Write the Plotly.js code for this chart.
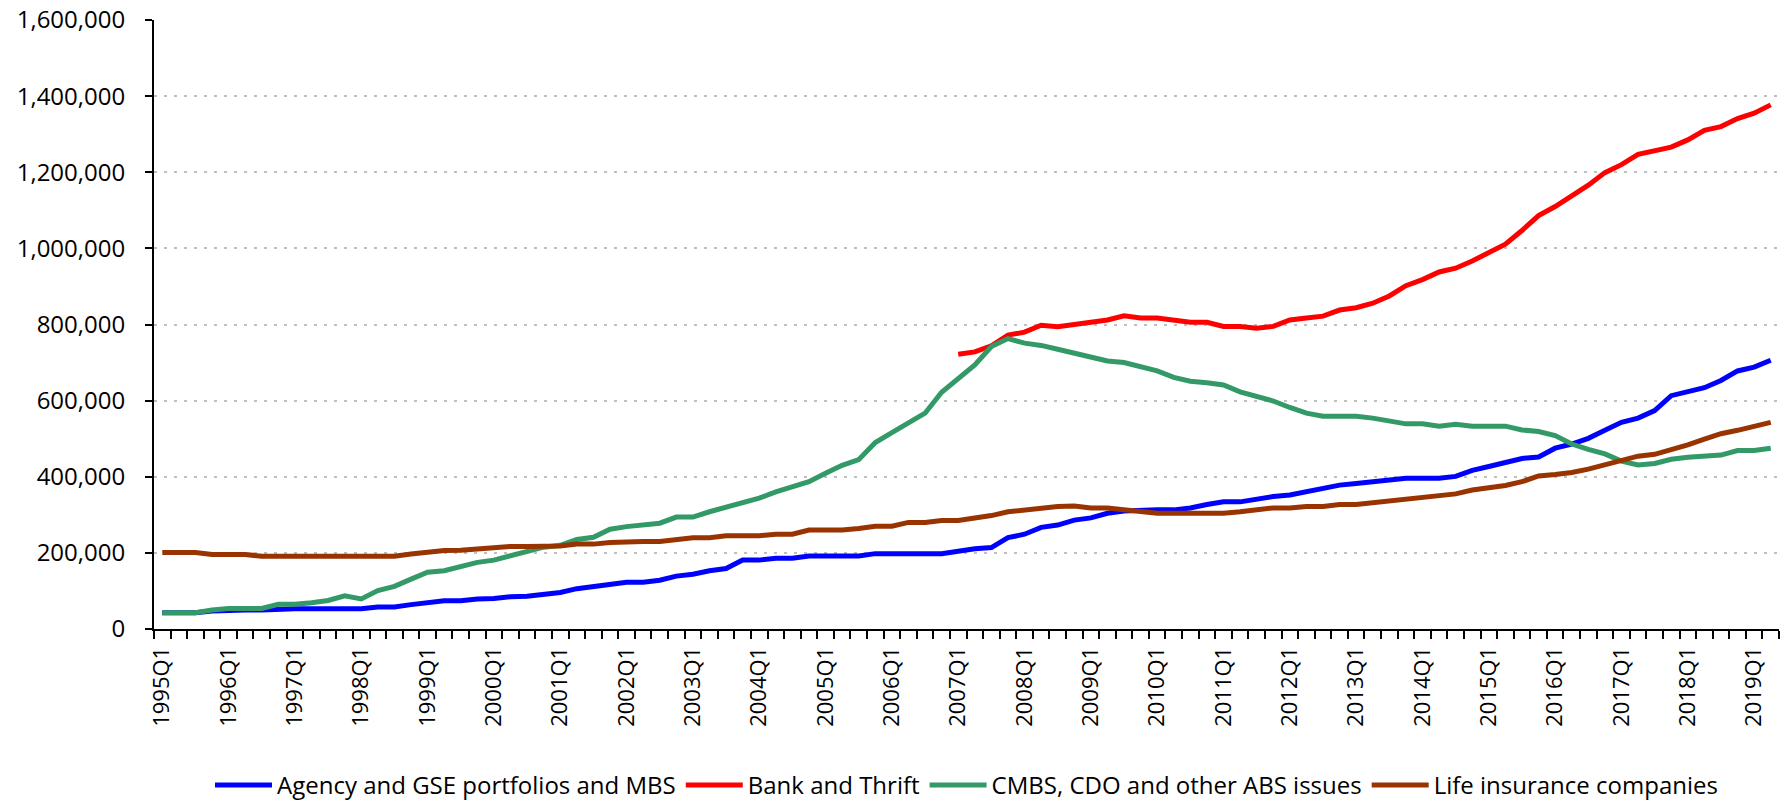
<!DOCTYPE html>
<html>
<head>
<meta charset="utf-8">
<script src="https://cdn.plot.ly/plotly-3.0.1.min.js"></script>
<style>
  html, body { margin: 0; padding: 0; background: #ffffff; }
  #chart { width: 1783px; height: 802px; }
</style>
</head>
<body>
<div id="chart"></div>
<script>
const quarters = [
  "1995Q1","1995Q2","1995Q3","1995Q4","1996Q1","1996Q2","1996Q3","1996Q4",
  "1997Q1","1997Q2","1997Q3","1997Q4","1998Q1","1998Q2","1998Q3","1998Q4",
  "1999Q1","1999Q2","1999Q3","1999Q4","2000Q1","2000Q2","2000Q3","2000Q4",
  "2001Q1","2001Q2","2001Q3","2001Q4","2002Q1","2002Q2","2002Q3","2002Q4",
  "2003Q1","2003Q2","2003Q3","2003Q4","2004Q1","2004Q2","2004Q3","2004Q4",
  "2005Q1","2005Q2","2005Q3","2005Q4","2006Q1","2006Q2","2006Q3","2006Q4",
  "2007Q1","2007Q2","2007Q3","2007Q4","2008Q1","2008Q2","2008Q3","2008Q4",
  "2009Q1","2009Q2","2009Q3","2009Q4","2010Q1","2010Q2","2010Q3","2010Q4",
  "2011Q1","2011Q2","2011Q3","2011Q4","2012Q1","2012Q2","2012Q3","2012Q4",
  "2013Q1","2013Q2","2013Q3","2013Q4","2014Q1","2014Q2","2014Q3","2014Q4",
  "2015Q1","2015Q2","2015Q3","2015Q4","2016Q1","2016Q2","2016Q3","2016Q4",
  "2017Q1","2017Q2","2017Q3","2017Q4","2018Q1","2018Q2","2018Q3","2018Q4",
  "2019Q1","2019Q2"
];

const agencyGSE = [
  43000,43000,43000,47000,50000,50000,50000,53000,53000,53000,53000,53000,53000,58000,58000,64000,
  69000,74000,74000,79000,80000,85000,86000,90000,96000,106000,112000,116000,123000,123000,128000,139000,
  144000,153000,159000,181000,181000,186000,186000,192000,192000,192000,192000,198000,198000,198000,198000,198000,
  204000,211000,214000,240000,249000,267000,273000,286000,292000,304000,310000,313000,313000,313000,318000,327000,
  334000,334000,342000,348000,352000,361000,367000,378000,382000,386000,392000,396000,396000,396000,401000,417000,
  427000,438000,448000,452000,475000,486000,501000,522000,543000,554000,574000,613000,624000,634000,653000,678000,
  688000,706000
];

const bankThrift = [
  null,null,null,null,null,null,null,null,null,null,null,null,null,null,null,null,
  null,null,null,null,null,null,null,null,null,null,null,null,null,null,null,null,
  null,null,null,null,null,null,null,null,null,null,null,null,null,null,null,null,
  722000,728000,744000,772000,780000,798000,794000,800000,805000,812000,823000,817000,817000,812000,806000,806000,
  795000,795000,790000,795000,812000,817000,822000,838000,844000,856000,875000,902000,918000,938000,948000,967000,
  989000,1011000,1047000,1086000,1110000,1139000,1166000,1199000,1220000,1247000,1256000,1266000,1285000,1310000,1320000,1341000,
  1355000,1377000
];

const cmbsCdoAbs = [
  43000,43000,43000,50000,54000,54000,54000,65000,65000,69000,75000,87000,79000,101000,112000,131000,
  149000,153000,165000,175000,181000,193000,204000,215000,220000,235000,241000,262000,269000,273000,278000,294000,
  294000,308000,319000,333000,344000,360000,372000,387000,409000,430000,445000,490000,516000,543000,567000,622000,
  659000,694000,742000,763000,751000,745000,735000,725000,717000,704000,700000,689000,678000,661000,651000,647000,
  641000,623000,610000,599000,582000,567000,559000,559000,559000,554000,547000,539000,539000,533000,538000,533000,
  533000,533000,523000,519000,508000,486000,472000,460000,441000,431000,435000,446000,451000,453000,457000,469000,
  469000,475000
];

const lifeInsurance = [
  201000,201000,201000,196000,196000,196000,191000,191000,191000,191000,191000,191000,191000,191000,191000,197000,
  202000,206000,207000,211000,212000,217000,217000,217000,218000,223000,223000,227000,230000,230000,230000,234000,
  240000,240000,245000,245000,245000,249000,249000,260000,260000,260000,264000,270000,270000,280000,280000,285000,
  285000,291000,298000,308000,313000,317000,322000,323000,318000,318000,313000,308000,304000,304000,304000,304000,
  304000,308000,313000,318000,318000,322000,322000,327000,327000,332000,338000,343000,348000,350000,355000,365000,
  370000,377000,387000,402000,406000,411000,420000,431000,443000,454000,459000,470000,484000,499000,513000,522000,
  532000,543000
];

const seriesNames = [
  "Agency and GSE portfolios and MBS",
  "Bank and Thrift",
  "CMBS, CDO and other ABS issues",
  "Life insurance companies"
];
const seriesColors = ["#0000FF", "#FF0000", "#339966", "#993300"];
const seriesValues = [agencyGSE, bankThrift, cmbsCdoAbs, lifeInsurance];

const tickLabels = quarters.map(q => q.endsWith("Q1") ? q : "");

const FONT = "Open Sans, sans-serif";

const traces = seriesValues.map((vals, k) => ({
  type: "scatter",
  mode: "lines",
  name: seriesNames[k],
  x: quarters,
  y: vals,
  line: { color: seriesColors[k], width: 5 },
  connectgaps: false,
  hoverinfo: "x+y+name"
}));

const layout = {
  width: 1783,
  height: 802,
  margin: { l: 154, r: 4, t: 20, b: 173, pad: 0, autoexpand: false },
  paper_bgcolor: "#ffffff",
  plot_bgcolor: "#ffffff",
  font: { family: FONT, size: 23, color: "#000000" },
  showlegend: true,
  legend: {
    orientation: "h",
    x: 0.5, xanchor: "center",
    y: -0.220, yanchor: "top",
    font: { family: FONT, size: 24, color: "#000000" },
    traceorder: "normal",
    itemwidth: 57
  },
  xaxis: {
    type: "category",
    range: [-0.5, quarters.length - 0.5],
    tickmode: "array",
    tickvals: quarters,
    ticktext: tickLabels,
    tickson: "boundaries",
    tickangle: -90,
    ticks: "outside",
    ticklen: 8,
    tickwidth: 2,
    tickcolor: "#000000",
    ticklabelstandoff: 7,
    showline: true,
    linecolor: "#000000",
    linewidth: 2,
    showgrid: false,
    zeroline: false,
    automargin: false,
    tickfont: { family: FONT, size: 22, color: "#000000" },
    fixedrange: true
  },
  yaxis: {
    range: [0, 1600000],
    tickmode: "linear",
    tick0: 0,
    dtick: 200000,
    tickformat: ",d",
    ticks: "outside",
    ticklen: 7,
    tickwidth: 2,
    tickcolor: "#000000",
    ticklabelstandoff: 15,
    showline: true,
    linecolor: "#000000",
    linewidth: 2,
    showgrid: true,
    gridcolor: "#BFBFBF",
    gridwidth: 2,
    griddash: "3px,7px",
    zeroline: false,
    automargin: false,
    tickfont: { family: FONT, size: 24, color: "#000000" },
    fixedrange: true
  }
};

Plotly.newPlot("chart", traces, layout, { displayModeBar: false, staticPlot: true });
</script>
</body>
</html>
